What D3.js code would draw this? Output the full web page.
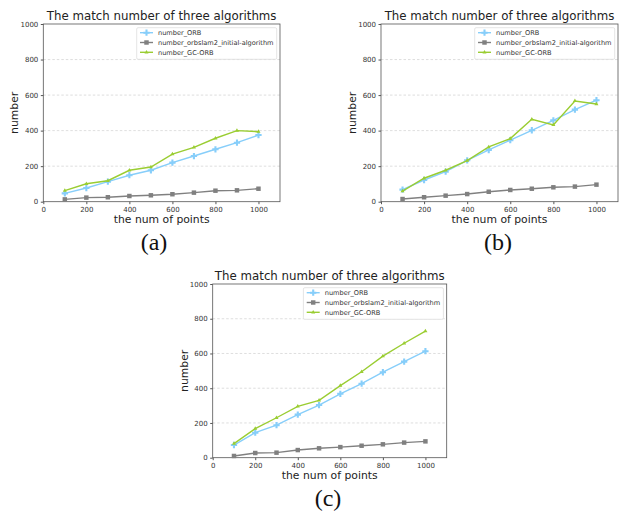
<!DOCTYPE html>
<html>
<head>
<meta charset="utf-8">
<script src="https://cdn.jsdelivr.net/npm/d3@7"></script>
<style>
  body { margin: 0; background: #fff; }
  svg { display: block; }
  .tick text { font-family: "DejaVu Sans", sans-serif; font-size: 7px; fill: #333; }
  .tick line { stroke: #555; }
  .domain { display: none; }
</style>
</head>
<body>
<svg id="chart" width="620" height="513"></svg>
<script>
var xPoints = [100, 200, 300, 400, 500, 600, 700, 800, 900, 1000];
var xTicks = [0, 200, 400, 600, 800, 1000];
var yTicks = [0, 200, 400, 600, 800, 1000];
var gridTicks = [200, 400, 600, 800];
var seriesNames = ["number_ORB", "number_orbslam2_initial-algorithm", "number_GC-ORB"];
var captions = ["(a)", "(b)", "(c)"];

var orbA = [47, 77, 113, 149, 177, 220, 257, 295, 332, 375],
    initA = [13, 23, 25, 32, 36, 42, 51, 62, 64, 73],
    gcA = [62, 101, 118, 177, 195, 268, 306, 357, 400, 394];

var orbB = [68, 122, 169, 233, 291, 346, 402, 458, 518, 571],
    initB = [15, 25, 34, 43, 56, 66, 73, 81, 85, 96],
    gcB = [60, 132, 177, 231, 308, 355, 464, 432, 567, 550];

var orbC = [73, 144, 187, 248, 303, 368, 426, 492, 553, 613],
    initC = [10, 27, 29, 44, 54, 61, 69, 77, 87, 94],
    gcC = [81, 167, 230, 296, 330, 415, 495, 585, 659, 729];

var colors = ["#87cefa", "#808080", "#9acd32"];

// plot boxes, in page pixels
var panels = [
  {x0: 43.3, x1: 280, y0: 24, y1: 201.7, cap: 154, data: [orbA, initA, gcA]},
  {x0: 381, x1: 618, y0: 24, y1: 201.7, cap: 498, data: [orbB, initB, gcB]},
  {x0: 212.7, x1: 446.7, y0: 284, y1: 457.7, cap: 328, data: [orbC, initC, gcC]}
];

var svg = d3.select("#chart");

var plus = d3.symbol().type(d3.symbolCross).size(22),
    square = d3.symbol().type(d3.symbolSquare).size(20),
    tri = d3.symbol().type(d3.symbolTriangle).size(7);
var markers = [plus, square, tri];

panels.forEach(function(p, pi) {

  var x = d3.scaleLinear().domain([0, 1100]).range([p.x0, p.x1]),
      y = d3.scaleLinear().domain([0, 1000]).range([p.y1, p.y0]);

  var g = svg.append("g");

  g.selectAll("line.grid")
    .data(gridTicks)
    .enter().append("line")
    .attr("x1", p.x0).attr("x2", p.x1)
    .attr("y1", y).attr("y2", y)
    .attr("stroke", "#d6d6d6")
    .attr("stroke-width", 0.8)
    .attr("stroke-dasharray", "2.5,2");

  g.append("g")
    .attr("transform", "translate(0," + p.y1 + ")")
    .call(d3.axisBottom(x).tickValues(xTicks).tickSize(2.5).tickPadding(2.5).tickFormat(d3.format("d")));

  g.append("g")
    .attr("transform", "translate(" + p.x0 + ",0)")
    .call(d3.axisLeft(y).tickValues(yTicks).tickSize(2.5).tickPadding(2.5).tickFormat(d3.format("d")));

  g.append("rect")
    .attr("x", p.x0).attr("y", p.y0)
    .attr("width", p.x1 - p.x0).attr("height", p.y1 - p.y0)
    .attr("fill", "none")
    .attr("stroke", "#555")
    .attr("stroke-width", 0.8);

  var line = d3.line()
    .x(function(d, i) { return x(xPoints[i]); })
    .y(function(d) { return y(d); });

  p.data.forEach(function(vals, si) {
    g.append("path")
      .attr("d", line(vals))
      .attr("fill", "none")
      .attr("stroke", colors[si])
      .attr("stroke-width", 1.4);

    g.selectAll("path.m" + si)
      .data(vals)
      .enter().append("path")
      .attr("class", "m" + si)
      .attr("transform", function(d, i) { return "translate(" + x(xPoints[i]) + "," + y(d) + ")"; })
      .attr("d", markers[si])
      .attr("fill", colors[si]);
  });

  // legend
  var lx = p.x1 - 143.3, ly = p.y0 + 3.7;
  var lg = g.append("g").attr("transform", "translate(" + lx + "," + ly + ")");
  lg.append("rect")
    .attr("width", 140).attr("height", 31.6)
    .attr("rx", 1.5)
    .attr("fill", "#fff")
    .attr("stroke", "#ddd")
    .attr("stroke-width", 0.8);

  seriesNames.forEach(function(name, si) {
    var ry = 5 + si * 9.8;
    lg.append("line")
      .attr("x1", 3.3).attr("x2", 16.3)
      .attr("y1", ry).attr("y2", ry)
      .attr("stroke", colors[si]).attr("stroke-width", 1.4);
    lg.append("path")
      .attr("transform", "translate(9.8," + ry + ")")
      .attr("d", markers[si])
      .attr("fill", colors[si]);
    lg.append("text")
      .attr("x", 21.3).attr("y", ry)
      .attr("dy", "0.35em")
      .attr("font-family", "DejaVu Sans, sans-serif")
      .attr("font-size", 6.6)
      .attr("fill", "#333")
      .text(name);
  });

  var cx = (p.x0 + p.x1) / 2;

  g.append("text")
    .attr("x", cx).attr("y", p.y0 - 4)
    .attr("text-anchor", "middle")
    .attr("font-family", "DejaVu Sans, sans-serif")
    .attr("font-size", 11.8)
    .attr("fill", "#222")
    .text("The match number of three algorithms");

  g.append("text")
    .attr("x", cx).attr("y", p.y1 + 21.5)
    .attr("text-anchor", "middle")
    .attr("font-family", "DejaVu Sans, sans-serif")
    .attr("font-size", 10.8)
    .attr("fill", "#222")
    .text("the num of points");

  g.append("text")
    .attr("transform", "translate(" + (p.x0 - 25) + "," + ((p.y0 + p.y1) / 2) + ") rotate(-90)")
    .attr("text-anchor", "middle")
    .attr("font-family", "DejaVu Sans, sans-serif")
    .attr("font-size", 10.8)
    .attr("fill", "#222")
    .text("number");

  g.append("text")
    .attr("x", p.cap).attr("y", p.y1 + 48)
    .attr("text-anchor", "middle")
    .attr("font-family", "Liberation Serif, serif")
    .attr("font-size", 24)
    .attr("fill", "#111")
    .text(captions[pi]);
});
</script>
</body>
</html>
